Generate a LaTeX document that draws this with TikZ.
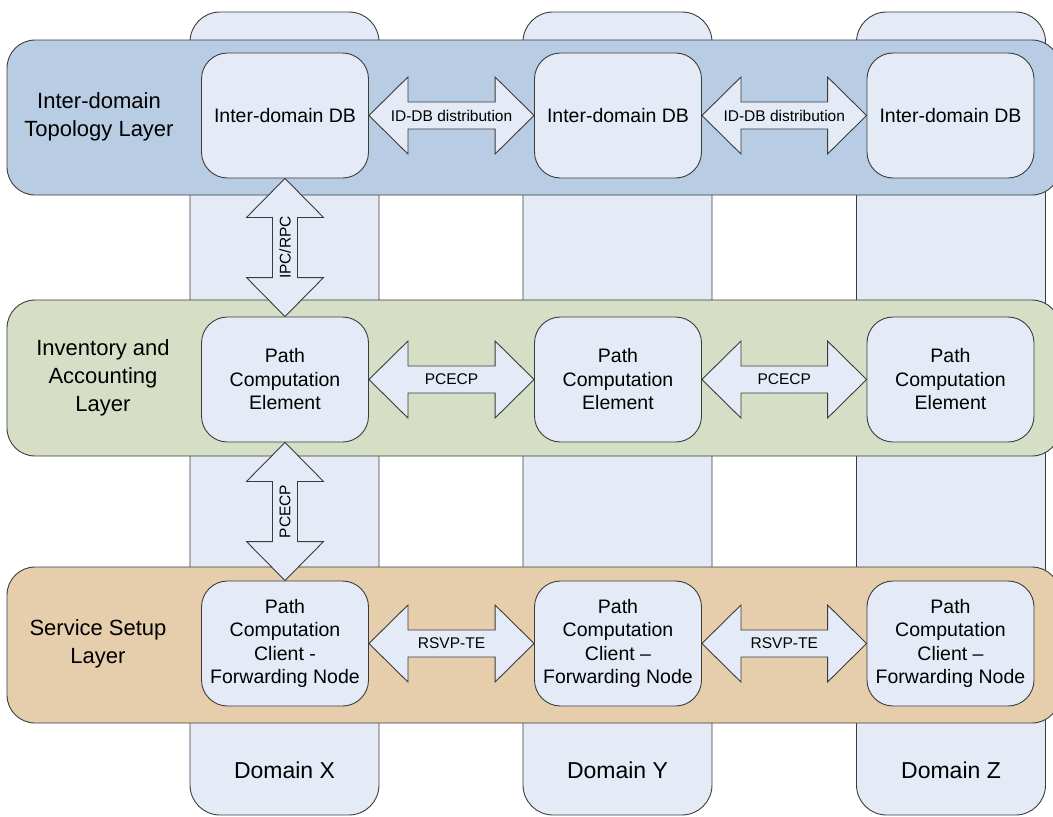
\documentclass[tikz,border=0pt]{standalone}
\usepackage{fontspec}
\setmainfont{Liberation Sans}
\usetikzlibrary{calc}

\definecolor{topoblue}{RGB}{184,204,228}
\definecolor{invgreen}{RGB}{215,222,198}
\definecolor{svctan}{RGB}{230,206,172}
\definecolor{boxfill}{RGB}{228,234,246}
\definecolor{edgegray}{RGB}{60,60,60}

\tikzset{
  outline/.style={draw=edgegray, line width=0.9pt},
  domaincol/.style={outline, fill=boxfill, rounded corners=30pt,
    minimum width=189pt, minimum height=803pt, inner sep=0pt},
  band/.style={outline, rounded corners=28pt,
    minimum width=1053pt, minimum height=156pt, inner sep=0pt},
  elem/.style={outline, fill=boxfill, rounded corners=26pt,
    minimum width=167pt, minimum height=125pt, inner sep=2pt,
    align=center, font=\fontsize{19.5}{23.5}\selectfont},
  layertext/.style={align=center, font=\fontsize{22}{28}\selectfont},
  domtext/.style={font=\fontsize{23}{28}\selectfont},
  arrowtext/.style={font=\fontsize{15.5}{18}\selectfont, inner sep=0pt},
  dblarrow/.style={outline, fill=boxfill, line join=miter},
}

% horizontal double arrow between the east side of #1 and the west side of #2
\newcommand{\hdouble}[3]{%
  \draw[dblarrow] let \p1=(#1.east), \p2=(#2.west) in
    (\x1,\y1) -- ++(39pt,38.5pt) -- ++(0,-25pt)
    -- (\x2-39pt,\y1+13.5pt) -- ++(0,25pt) -- (\x2,\y1)
    -- ++(-39pt,-38.5pt) -- ++(0,25pt)
    -- (\x1+39pt,\y1-13.5pt) -- ++(0,-25pt) -- cycle;
  \path (#1.east) -- node[arrowtext]{#3} (#2.west);
}
% vertical double arrow between the south side of #1 and the north side of #2
\newcommand{\vdouble}[3]{%
  \draw[dblarrow] let \p1=(#1.south), \p2=(#2.north) in
    (\x1,\y1) -- ++(38.5pt,-39pt) -- ++(-26pt,0)
    -- (\x1+12.5pt,\y2+39pt) -- ++(26pt,0) -- (\x2,\y2)
    -- ++(-38.5pt,39pt) -- ++(26pt,0)
    -- (\x1-12.5pt,\y1-39pt) -- ++(-26pt,0) -- cycle;
  \path (#1.south) -- node[arrowtext, rotate=90]{#3} (#2.north);
}

\begin{document}
\begin{tikzpicture}[x=1pt, y=-1pt]
  \useasboundingbox (0,0) rectangle (1053,817);

  % domain columns
  \node[domaincol] (colx) at (284.5,413.5) {};
  \node[domaincol] (coly) at (617.5,413.5) {};
  \node[domaincol] (colz) at (951,413.5) {};
  \node[domtext] (domx) at (284.5,770) {Domain X};
  \node[domtext] (domy) at (617.5,770) {Domain Y};
  \node[domtext] (domz) at (951,770) {Domain Z};

  % layer bands (their right ends run past the page edge)
  \node[band, fill=topoblue, minimum height=155pt] (topo) at (533.5,117.5) {};
  \node[band, fill=invgreen] (inv) at (533.5,378) {};
  \node[band, fill=svctan] (svc) at (533.5,645) {};

  \node[layertext] (topolbl) at (99,117) {Inter-domain\\Topology Layer};
  \node[layertext] (invlbl) at (103,378) {Inventory and\\Accounting\\Layer};
  \node[layertext] (svclbl) at (98,644) {Service Setup\\Layer};

  % per-domain elements
  \node[elem] (dbx) at (285,115.5) {Inter-domain DB};
  \node[elem] (dby) at (618,115.5) {Inter-domain DB};
  \node[elem] (dbz) at (950.5,115.5) {Inter-domain DB};

  \node[elem] (pcex) at (285,379.5) {Path\\Computation\\Element};
  \node[elem] (pcey) at (618,379.5) {Path\\Computation\\Element};
  \node[elem] (pcez) at (950.5,379.5) {Path\\Computation\\Element};

  \node[elem] (pccx) at (285,643.5) {Path\\Computation\\Client -\\Forwarding Node};
  \node[elem] (pccy) at (618,643.5) {Path\\Computation\\Client –\\Forwarding Node};
  \node[elem] (pccz) at (950.5,643.5) {Path\\Computation\\Client –\\Forwarding Node};

  % protocol arrows
  \hdouble{dbx}{dby}{ID-DB distribution}
  \hdouble{dby}{dbz}{ID-DB distribution}
  \hdouble{pcex}{pcey}{PCECP}
  \hdouble{pcey}{pcez}{PCECP}
  \hdouble{pccx}{pccy}{RSVP-TE}
  \hdouble{pccy}{pccz}{RSVP-TE}

  \vdouble{dbx}{pcex}{IPC/RPC}
  \vdouble{pcex}{pccx}{PCECP}
\end{tikzpicture}
\end{document}
